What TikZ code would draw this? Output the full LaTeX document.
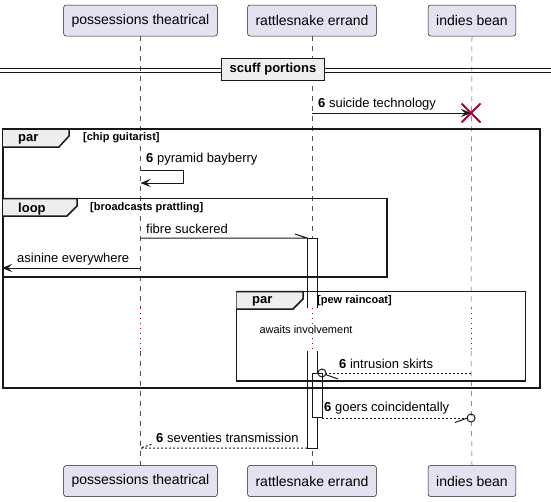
\documentclass[tikz,border=0pt]{standalone}
\usepackage{fontspec}
\setmainfont{Liberation Sans}
\usetikzlibrary{arrows.meta,calc}
\definecolor{ink}{HTML}{181818}
\definecolor{lilac}{HTML}{E2E2F0}
\definecolor{crimson}{HTML}{A80036}
\definecolor{tabgray}{HTML}{EEEEEE}
\tikzset{
  actor/.style={draw=ink, fill=lilac, line width=0.5pt, rounded corners=2.5pt,
    minimum height=31pt, inner xsep=8pt, text=black, font=\fontsize{14}{16}\selectfont},
  lifeline/.style={draw=ink!75, line width=0.5pt, dash pattern=on 5pt off 5pt},
  delayline/.style={draw=crimson, line width=1pt, dash pattern=on 1pt off 4pt},
  msg/.style={draw=ink, line width=1pt},
  reply/.style={msg, dash pattern=on 2pt off 2pt},
  tip/.style={-{Stealth[length=10pt,width=8pt,inset=4pt]}},
  lbl/.style={font=\fontsize{13}{15}\selectfont, inner sep=0pt, anchor=west},
  frame/.style={draw=black!90, line width=1.5pt},
  tab/.style={frame, fill=tabgray},
  tabtext/.style={font=\bfseries\fontsize{13}{15}\selectfont, inner sep=0pt, anchor=west},
  guard/.style={font=\bfseries\fontsize{11}{13}\selectfont, inner sep=0pt, anchor=west},
  act/.style={draw=ink, fill=white, line width=1pt},
  kill/.style={draw=crimson, line width=1.8pt}
}

\begin{document}
\begin{tikzpicture}[x=1pt,y=-1pt]
        \useasboundingbox (0,0) rectangle (551,501);

        % participants, top and bottom
        \node[actor] (poss-top) at (140.5,20.5) {possessions theatrical};
        \node[actor] (rattle-top) at (312,20.5) {rattlesnake errand};
        \node[actor] (indies-top) at (472,20.5) {indies bean};
        \node[actor] (poss-bot) at (140.5,481) {possessions theatrical};
        \node[actor] (rattle-bot) at (312,481) {rattlesnake errand};
        \node[actor] (indies-bot) at (472,481) {indies bean};

        % lifelines, dotted while waiting
        \foreach \who/\x in {poss/140.5, rattle/312, indies/471} {
          \coordinate (\who-d1) at (\x,308);
          \coordinate (\who-d2) at (\x,351);
          \draw[lifeline] (\who-top.south) -- (\who-d1);
          \draw[delayline] (\who-d1) -- (\who-d2);
          \draw[lifeline] (\who-d2) -- (\who-bot.north);
        }

        % divider
        \draw[ink, line width=1pt] (0,68.5) -- (551,68.5) (0,72.5) -- (551,72.5);
        \node[frame, fill=tabgray, minimum height=22pt, inner xsep=8pt,
          font=\bfseries\fontsize{13}{15}\selectfont] (divider) at (273,69.5) {scuff portions};

        % activations
        \filldraw[act] (307,308) |- (317,238) -- (317,308);
        \filldraw[act] (307,351) |- (317,448) -- (317,351);
        \filldraw[act] (312,373) rectangle (322,417);

        % frames
        \draw[frame] (3,129) rectangle (540,388);
        \filldraw[tab] (3,129) -- (69,129) -- (69,136) -- (59,147) -- (3,147);
        \node[tabtext] (par-a) at (18,139.5) {par};
        \node[guard] (par-a-guard) at (83,138) {[chip guitarist]};

        \draw[frame] (3,198.5) rectangle (387,277);
        \filldraw[tab] (3,198.5) -- (77,198.5) -- (77,206) -- (67,216) -- (3,216);
        \node[tabtext] (loop-a) at (18,209) {loop};
        \node[guard] (loop-a-guard) at (90,207.5) {[broadcasts prattling]};

        \draw[frame] (236.5,291.5) rectangle (525.5,381);
        \filldraw[tab] (236.5,291.5) -- (303,291.5) -- (303,299) -- (293,309) -- (236.5,309);
        \node[tabtext] (par-b) at (252,301.5) {par};
        \node[guard] (par-b-guard) at (317,300.5) {[pew raincoat]};

        % message ends
        \coordinate (m1s) at (312,113);
        \coordinate (m1e) at (471,113);
        \coordinate (m2s) at (140.5,170.5);
        \coordinate (m2e) at (140.5,183);
        \coordinate (m3s) at (140.5,238);
        \coordinate (m3e) at (307,238);
        \coordinate (m4s) at (140.5,268);
        \coordinate (m4e) at (2,268);
        \coordinate (m5s) at (471,373);
        \coordinate (m5e) at (322,373);
        \coordinate (m6s) at (322,418);
        \coordinate (m6e) at (471,418);
        \coordinate (m7s) at (307,448);
        \coordinate (m7e) at (140.5,448);

        % messages
        \draw[msg, tip] (m1s) -- (m1e);
        \draw[kill] (m1e) ++(-9.5,-9.5) -- ++(19,19) (m1e) ++(-9.5,9.5) -- ++(19,-19);
        \node[lbl] (t1) at (318,104) {\textbf{6} suicide technology};

        \draw[msg, tip] (m2s) -- ++(42.5,0) |- (m2e);
        \node[lbl] (t2) at (146,159.5) {\textbf{6} pyramid bayberry};

        \draw[msg] (m3s) -- (m3e) -- ++(-12,-4);
        \node[lbl] (t3) at (146,229) {fibre suckered};

        \draw[msg, tip] (m4s) -- (m4e);
        \node[lbl] (t4) at (17,259) {asinine everywhere};

        \node[font=\fontsize{11}{13}\selectfont, inner sep=0pt] (wait) at (306,330) {awaits involvement};

        \draw[reply] (m5s) -- ($(m5e)+(4,0)$);
        \draw[msg] (m5e) circle (4pt);
        \draw[msg] ($(m5e)+(3.5,1.5)$) -- ++(12.5,4.5);
        \node[lbl] (t5) at (339,364) {\textbf{6} intrusion skirts};

        \draw[reply] (m6s) -- ($(m6e)+(-4,0)$);
        \draw[msg] (m6e) circle (4pt);
        \draw[msg] ($(m6e)+(-5,0.5)$) -- ++(-11,4);
        \node[lbl] (t6) at (324,408) {\textbf{6} goers coincidentally};

        \draw[reply] (m7s) -- (m7e) -- ++(12,-4);
        \node[lbl] (t7) at (156,438) {\textbf{6} seventies transmission};
\end{tikzpicture}
\end{document}
